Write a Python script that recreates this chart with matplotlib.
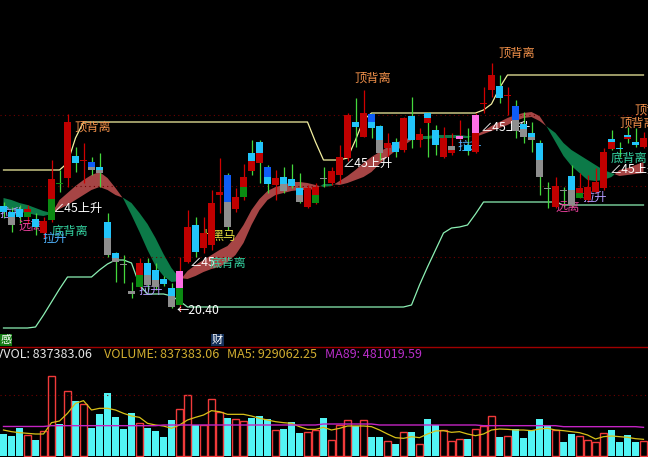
import numpy as np
import matplotlib
matplotlib.use('Agg')
import matplotlib.pyplot as plt

plt.rcParams['font.family'] = ['Noto Sans CJK SC', 'DejaVu Sans']

# daily prices
opens = [21.45, 21.39, 21.42, 21.34, 21.32, 21.18, 21.31, 21.68, 21.73, 21.95,
         21.90, 21.89, 21.84, 21.29, 20.98, 20.87, 20.60, 20.64, 20.88, 20.81,
         20.72, 20.63, 20.46, 20.89, 21.26, 21.03, 21.06, 21.56, 21.76, 21.42,
         21.54, 21.98, 22.09, 21.84, 21.66, 21.74, 21.72, 21.63, 21.44, 21.48,
         21.73, 21.68, 21.76, 21.93, 22.29, 22.14, 22.37, 22.25, 22.03, 22.09,
         22.01, 22.35, 22.11, 22.38, 22.21, 21.94, 21.98, 22.12, 22.06, 21.99,
         22.47, 22.61, 22.65, 22.55, 22.45, 22.27, 22.18, 22.08, 21.63, 21.44,
         21.61, 21.75, 21.53, 21.51, 21.59, 21.63, 22.12, 22.03, 22.16, 22.09, 22.04]
highs = [21.49, 21.44, 21.46, 21.46, 21.38, 21.34, 21.91, 21.81, 22.37, 22.04,
         22.08, 21.94, 21.98, 21.38, 20.99, 20.96, 20.69, 20.93, 20.93, 20.88,
         20.75, 20.68, 20.94, 21.41, 21.34, 21.34, 21.61, 21.93, 21.78, 21.63,
         21.87, 22.11, 22.11, 21.86, 21.81, 21.84, 21.87, 21.78, 21.66, 21.68,
         21.84, 21.84, 22.06, 22.38, 22.53, 22.61, 22.38, 22.26, 22.18, 22.13,
         22.34, 22.54, 22.23, 22.39, 22.26, 22.24, 22.18, 22.31, 22.23, 22.38,
         22.64, 22.88, 22.76, 22.64, 22.51, 22.39, 22.29, 22.11, 21.69, 21.74,
         21.64, 21.86, 21.78, 21.76, 21.83, 22.03, 22.21, 22.09, 22.24, 22.23, 22.19]
lows = [21.33, 21.19, 21.28, 21.28, 21.16, 21.13, 21.29, 21.59, 21.64, 21.79,
        21.68, 21.76, 21.64, 20.94, 20.69, 20.68, 20.53, 20.63, 20.61, 20.61,
        20.65, 20.43, 20.40, 20.88, 20.94, 20.98, 21.01, 21.38, 21.21, 21.39,
        21.51, 21.76, 21.68, 21.58, 21.51, 21.58, 21.63, 21.48, 21.43, 21.47,
        21.64, 21.66, 21.68, 21.90, 22.04, 22.14, 22.13, 21.91, 21.94, 21.94,
        21.99, 22.03, 22.04, 21.94, 21.96, 21.93, 21.96, 22.06, 21.96, 21.98,
        22.38, 22.54, 22.48, 22.36, 22.13, 22.08, 21.99, 21.56, 21.43, 21.43,
        21.44, 21.44, 21.53, 21.49, 21.58, 21.61, 22.01, 21.94, 22.08, 22.04, 22.03]
closes = [21.39, 21.26, 21.34, 21.42, 21.24, 21.30, 21.72, 21.67, 22.29, 21.88,
          21.91, 21.81, 21.78, 20.96, 20.89, 20.86, 20.57, 20.88, 20.66, 20.64,
          20.67, 20.44, 20.80, 21.24, 20.99, 21.18, 21.48, 21.59, 21.24, 21.54,
          21.74, 21.80, 21.88, 21.67, 21.73, 21.60, 21.65, 21.49, 21.63, 21.64,
          21.72, 21.80, 21.94, 22.36, 22.24, 22.38, 22.23, 21.98, 22.08, 21.99,
          22.33, 22.11, 22.17, 22.28, 22.06, 22.13, 22.05, 22.15, 22.00, 22.36,
          22.48, 22.76, 22.53, 22.56, 22.20, 22.14, 22.11, 21.74, 21.62, 21.65,
          21.60, 21.46, 21.63, 21.64, 21.69, 21.99, 22.02, 22.02, 22.12, 22.06, 22.13]

# body colouring of the indicator overlay (upper part / lower part)
body_style = ['c', 'cg', 'c', 'rG', 'c', 'r', 'rG', 'G', 'r', 'c',
              'r', 'bg', 'cg', 'cg', 'cg', 'g', 'g', 'rG', 'cg', 'cg',
              'c', 'cg', 'pG', 'r', 'c', 'r', 'r', 'r', 'bg', 'r',
              'rG', 'cr', 'cr', 'bc', 'r', 'cg', 'c', 'cg', 'r', 'rG',
              'g', 'r', 'r', 'r', 'c', 'r', 'bc', 'cg', 'r', 'c',
              'r', 'c', 'r', 'cr', 'c', 'r', 'gr', 'p', 'c', 'pr',
              'r', 'r', 'c', 'r', 'bg', 'cg', 'cg', 'cg', 'g', 'r',
              'g', 'cg', 'rG', 'r', 'r', 'r', 'cr', 'c', 'cr', 'c', 'r']
body_split = [None, 21.34, None, 21.39, None, None, 21.52, None, None, None,
              None, 21.84, 21.81, 21.13, 20.93, None, None, 20.76, 20.76, 20.71,
              None, 20.55, 20.63, None, None, None, None, None, 21.49, None,
              21.64, 21.90, 21.98, 21.74, None, 21.67, None, 21.56, None, 21.56,
              None, None, None, None, None, None, 22.29, 22.11, None, None,
              None, None, None, 22.33, None, None, 22.01, None, None, 22.18,
              None, None, None, None, 22.31, 22.22, 22.14, 21.91, None, None,
              None, 21.61, 21.58, None, None, None, 22.09, None, 22.14, None, None]

# moving-average ribbon
ma_fast = [21.41, 21.41, 21.39, 21.38, 21.36, 21.35, 21.37, 21.51, 21.58, 21.65,
           21.71, 21.76, 21.79, 21.73, 21.63, 21.52, 21.36, 21.19, 21.01, 20.85,
           20.75, 20.69, 20.70, 20.80, 20.86, 20.91, 20.96, 21.01, 21.05, 21.14,
           21.26, 21.41, 21.52, 21.60, 21.64, 21.66, 21.69, 21.69, 21.68, 21.66,
           21.64, 21.65, 21.70, 21.75, 21.81, 21.88, 21.94, 21.99, 22.04, 22.08,
           22.11, 22.14, 22.12, 22.12, 22.13, 22.13, 22.13, 22.13, 22.13, 22.16,
           22.20, 22.25, 22.29, 22.33, 22.36, 22.38, 22.39, 22.35, 22.23, 22.09,
           21.95, 21.85, 21.78, 21.71, 21.70, 21.71, 21.74, 21.81, 21.83, 21.86, 21.89]
ma_slow = [21.53, 21.51, 21.48, 21.46, 21.43, 21.40, 21.38, 21.42, 21.46, 21.51,
           21.56, 21.61, 21.64, 21.61, 21.56, 21.53, 21.48, 21.38, 21.27, 21.13,
           20.97, 20.83, 20.73, 20.72, 20.75, 20.79, 20.82, 20.84, 20.89, 20.96,
           21.08, 21.26, 21.41, 21.51, 21.56, 21.58, 21.60, 21.61, 21.61, 21.62,
           21.67, 21.67, 21.66, 21.68, 21.71, 21.74, 21.79, 21.87, 21.94, 22.00,
           22.05, 22.11, 22.15, 22.15, 22.16, 22.16, 22.16, 22.16, 22.15, 22.14,
           22.17, 22.20, 22.23, 22.26, 22.30, 22.33, 22.34, 22.30, 22.24, 22.18,
           22.08, 22.01, 21.96, 21.91, 21.86, 21.81, 21.78, 21.75, 21.76, 21.77, 21.78]

# pressure / support step lines
upper_line = [21.81] * 8 + [21.88, 22.13] + [22.29] * 29 + [22.09, 21.91, 21.91, 21.91,
              21.93, 22.11, 22.31] + [22.38] * 14 + [22.41, 22.47, 22.63] + [22.76] * 18
lower_line = [20.23] * 4 + [20.24, 20.36, 20.49, 20.62] + [20.74] * 4 + [20.81, 20.87, 20.91,
              20.91, 20.88, 20.66, 20.57, 20.57, 20.57, 20.55, 20.50] + [20.44] * 28 + \
             [20.46, 20.66, 20.84, 21.01, 21.18, 21.23, 21.24, 21.26, 21.37] + [21.49] * 10 + [21.46] * 11
grid_levels = [20.94, 21.65, 22.36]

# volume (thousand lots)
volume = [325, 295, 415, 305, 235, 370, 1195, 475, 970, 820,
          775, 415, 625, 940, 580, 400, 640, 490, 415, 370,
          280, 535, 700, 910, 460, 460, 850, 655, 565, 550,
          520, 565, 595, 550, 385, 400, 505, 340, 355, 385,
          565, 235, 460, 535, 445, 535, 280, 280, 220, 175,
          355, 355, 175, 550, 460, 385, 220, 250, 250, 400,
          445, 595, 280, 295, 400, 265, 385, 550, 460, 385,
          205, 325, 295, 235, 205, 340, 385, 205, 310, 205, 220]
vol_ma5 = [385, 360, 345, 335, 325, 325, 495, 520, 635, 785,
           825, 685, 710, 710, 685, 635, 595, 575, 485, 460,
           445, 410, 460, 535, 575, 610, 675, 660, 620, 620,
           620, 595, 560, 535, 510, 495, 485, 435, 395, 395,
           425, 385, 410, 445, 445, 445, 435, 385, 325, 270,
           260, 285, 270, 325, 370, 375, 350, 360, 325, 300,
           325, 385, 400, 395, 385, 385, 375, 400, 410, 385,
           375, 360, 345, 310, 250, 285, 295, 285, 275, 255, 245]
vol_ma89 = [438] * 6 + [450] * 14 + [460] * 20 + [475] * 7 + [460] * 13 + [450] * 10 + [435] * 10 + [425]

W, H = 648, 457
fig = plt.figure(figsize=(W / 100, H / 100), dpi=100, facecolor='black')
ax = fig.add_axes([0, 110 / H, 1, 347 / H], facecolor='black')
axv = fig.add_axes([0, 0, 1, 108 / H], facecolor='black')

x = np.arange(len(opens))
o = np.array(opens); c = np.array(closes)
hi = np.array(highs); lo = np.array(lows)
up = c >= o

colors = {'r': '#c00000', 'c': '#22c4fa', 'g': '#8e8e8e', 'b': '#0e5cf6',
          'G': '#0b8a12', 'p': '#ff6fe6'}

# ribbon
fa = np.array(ma_fast); sl = np.array(ma_slow)
ax.fill_between(x, fa, sl, where=fa >= sl, interpolate=True, color='#a64545', lw=0, zorder=1)
ax.fill_between(x, fa, sl, where=fa < sl, interpolate=True, color='#0c7a48', lw=0, zorder=1)

ax.plot(x, upper_line, color='#f4f0a0', lw=0.9, zorder=2)
ax.plot(x, lower_line, color='#8cf0b4', lw=0.9, zorder=2)

# wicks
ax.vlines(x[up], lo[up], hi[up], color='#d00000', lw=0.9, zorder=3)
ax.vlines(x[~up], lo[~up], hi[~up], color='#44d83c', lw=0.9, zorder=3)

# bodies
bw = 0.8
for i in range(len(x)):
    top, bot = max(o[i], c[i]), min(o[i], c[i])
    if top - bot < 0.015:
        mid = (top + bot) / 2
        top, bot = mid + 0.0075, mid - 0.0075
    st = body_style[i]
    if len(st) == 1 or body_split[i] is None:
        ax.bar(x[i], top - bot, bottom=bot, width=bw, color=colors[st[0]], lw=0, zorder=4)
    else:
        s = body_split[i]
        ax.bar(x[i], top - s, bottom=s, width=bw, color=colors[st[0]], lw=0, zorder=4)
        ax.bar(x[i], s - bot, bottom=bot, width=bw, color=colors[st[1]], lw=0, zorder=4)

ax.set_xlim(-0.4375, 80.5625)
ax.set_ylim(20.04, 23.51)
ax.set_xticks([])
ax.set_yticks(grid_levels)
ax.tick_params(left=False, labelleft=False)
ax.grid(axis='y', color='#6e0000', linestyle=(0, (1, 3)), lw=0.8)
for s in ax.spines.values():
    s.set_visible(False)
ax.spines['bottom'].set_visible(True)
ax.spines['bottom'].set_color('#a00000')
ax.spines['bottom'].set_linewidth(1.0)

# volume panel
vol = np.array(volume)
axv.bar(x[~up], vol[~up], width=0.85, color='#52f4f4', lw=0)
axv.bar(x[up], vol[up], width=0.78, facecolor='none', edgecolor='#f03a3a', lw=1.0)
axv.plot(x, vol_ma5, color='#d8c018', lw=0.9)
axv.plot(x, vol_ma89, color='#c424c4', lw=1.0)
axv.set_xlim(-0.4375, 80.5625)
axv.set_ylim(-20, 1600)
axv.set_xticks([])
axv.set_yticks([910])
axv.tick_params(left=False, labelleft=False)
axv.grid(axis='y', color='#6e0000', linestyle=(0, (1, 3)), lw=0.8)
for s in axv.spines.values():
    s.set_visible(False)


def put(txt, px, py, col, size=8.8, **kw):
    ax.text(px / W, 1 - py / H, txt, transform=fig.transFigure, color=col, fontsize=size,
            ha='left', va='center', zorder=3.5, **kw)


orange = '#f0904a'
teal = '#34d2a0'
magenta = '#e8409c'
lav = '#b49cff'
blue = '#50b4ff'
for px, py in [(74, 127), (354, 78), (498, 53), (619, 123), (634, 110)]:
    put('顶背离', px, py, orange)
for px, py in [(53, 208), (343, 163), (481, 127), (610, 169)]:
    put('∠45上升', px, py, 'white')
put('∠45', 190, 263, 'white')
for px, py in [(210, 263), (52, 231), (611, 158)]:
    put('底背离', px, py, teal)
for px, py in [(18, 226), (555, 207)]:
    put('远离', px, py, magenta)
put('拉升', -1, 213, lav)
put('拉升', 42, 238, blue)
put('拉升', 138, 290, lav)
put('拉升', 457, 146, blue)
put('拉升', 582, 197, lav)
put('十', 199, 236, '#e8e040')
put('黑马', 211, 236, '#e8e040')
put('←20.40', 177, 311, 'white')

fig.text(0 / W, 1 - 340 / H, '感', color='white', fontsize=8, ha='left', va='center',
         bbox=dict(boxstyle='square,pad=0.05', fc='#137a13', ec='none'))
fig.text(212 / W, 1 - 340 / H, '财', color='white', fontsize=8, ha='left', va='center',
         bbox=dict(boxstyle='square,pad=0.05', fc='#14305a', ec='none'))

hy = 1 - 355 / H
fig.text(-4 / W, hy, 'VVOL: 837383.06', color='#e6e6e6', fontsize=9, ha='left', va='center')
fig.text(104 / W, hy, 'VOLUME: 837383.06', color='#d2ae30', fontsize=9, ha='left', va='center')
fig.text(227 / W, hy, 'MA5: 929062.25', color='#d2ae30', fontsize=9, ha='left', va='center')
fig.text(325 / W, hy, 'MA89: 481019.59', color='#b82ec8', fontsize=9, ha='left', va='center')

fig.savefig('out.png', dpi=100, facecolor='black')
